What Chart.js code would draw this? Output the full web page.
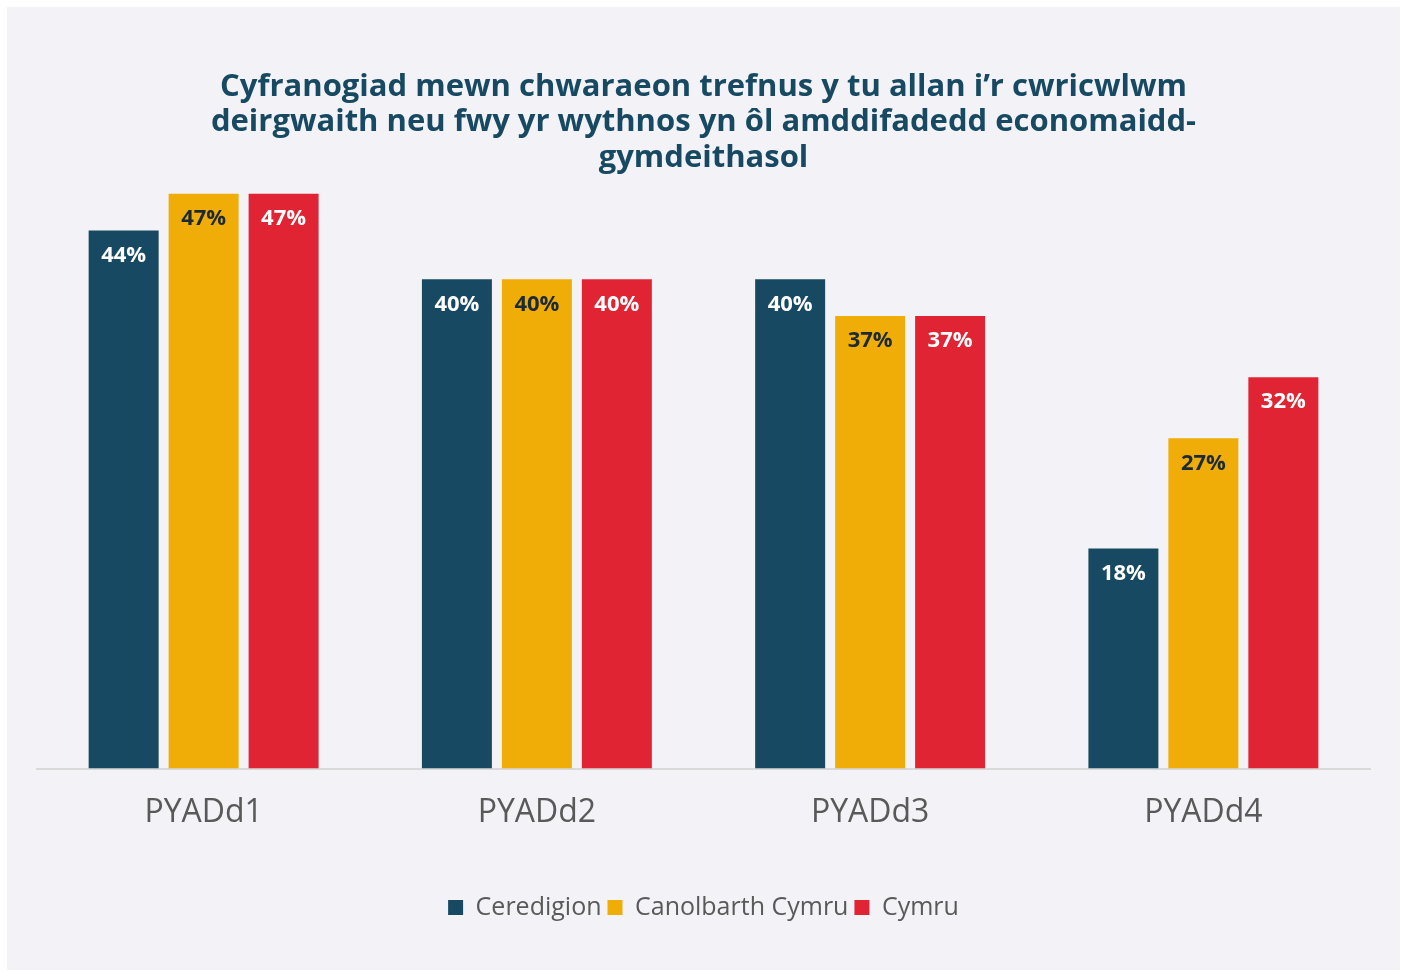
<!DOCTYPE html>
<html>
<head>
<meta charset="utf-8">
<script src="https://cdn.jsdelivr.net/npm/chart.js@4.4.1/dist/chart.umd.min.js"></script>
<style>
  html,body{margin:0;padding:0;background:#fff;}
  #panel{position:absolute;left:7px;top:7px;width:1393px;height:963px;background:#f2f2f7;}
  #chart{display:block;}
</style>
</head>
<body>
<div id="panel"><canvas id="chart" width="1393" height="963"></canvas></div>
<script>
// Data
const categories = ['PYADd1', 'PYADd2', 'PYADd3', 'PYADd4'];
const seriesNames = ['Ceredigion', 'Canolbarth Cymru', 'Cymru'];
const ceredigion = [44, 40, 40, 18];
const canolbarth = [47, 40, 37, 27];
const cymru = [47, 40, 37, 32];
const titleLines = [
  'Cyfranogiad mewn chwaraeon trefnus y tu allan i\u2019r cwricwlwm',
  'deirgwaith neu fwy yr wythnos yn \u00f4l amddifadedd economaidd-',
  'gymdeithasol'
];

const FONT = '"Open Sans", "Noto Sans", sans-serif';
const colors = ['#174a62', '#f0ad08', '#e02433'];
const labelColors = ['#ffffff', '#1b2a33', '#ffffff'];

// title drawn by hand so the plot area can sit right under it
const titlePlugin = {
  id: 'titleLines',
  afterDraw(chart){
    const ctx = chart.ctx;
    ctx.save();
    ctx.fillStyle = '#174a62';
    ctx.font = 'bold 31px ' + FONT;
    ctx.textAlign = 'center';
    ctx.textBaseline = 'middle';
    const cx = chart.width / 2;
    titleLines.forEach((t, i) => ctx.fillText(t, cx, 80 + i * 35.5));
    ctx.restore();
  }
};

// value labels inside the top of each bar
const valueLabels = {
  id: 'valueLabels',
  afterDatasetsDraw(chart){
    const ctx = chart.ctx;
    ctx.save();
    ctx.font = 'bold 22px ' + FONT;
    ctx.textAlign = 'center';
    ctx.textBaseline = 'middle';
    chart.data.datasets.forEach((ds, di) => {
      const meta = chart.getDatasetMeta(di);
      meta.data.forEach((bar, i) => {
        ctx.fillStyle = labelColors[di];
        ctx.fillText(ds.data[i] + '%', bar.x, bar.y + 25);
      });
    });
    ctx.restore();
  }
};

new Chart(document.getElementById('chart'), {
  type: 'bar',
  data: {
    labels: categories,
    datasets: [
      {label: seriesNames[0], data: ceredigion, backgroundColor: colors[0]},
      {label: seriesNames[1], data: canolbarth, backgroundColor: colors[1]},
      {label: seriesNames[2], data: cymru, backgroundColor: colors[2]}
    ]
  },
  options: {
    responsive: false,
    animation: false,
    categoryPercentage: 0.72,
    barPercentage: 0.875,
    layout: {padding: {top: 150, left: 30, right: 30, bottom: 40}},
    scales: {
      x: {
        grid: {display: false, drawTicks: false},
        border: {display: true, color: '#d9d9d9', width: 2},
        ticks: {color: '#595959', font: {family: FONT, size: 32}, padding: 25},
        afterFit(scale){ scale.height += 32; }
      },
      y: {display: false, min: 0, max: 50}
    },
    plugins: {
      title: {display: false},
      tooltip: {enabled: false},
      legend: {
        position: 'bottom',
        labels: {
          color: '#595959',
          font: {family: FONT, size: 25},
          boxWidth: 15,
          boxHeight: 15,
          padding: 6
        }
      }
    }
  },
  plugins: [titlePlugin, valueLabels]
});
</script>
</body>
</html>
